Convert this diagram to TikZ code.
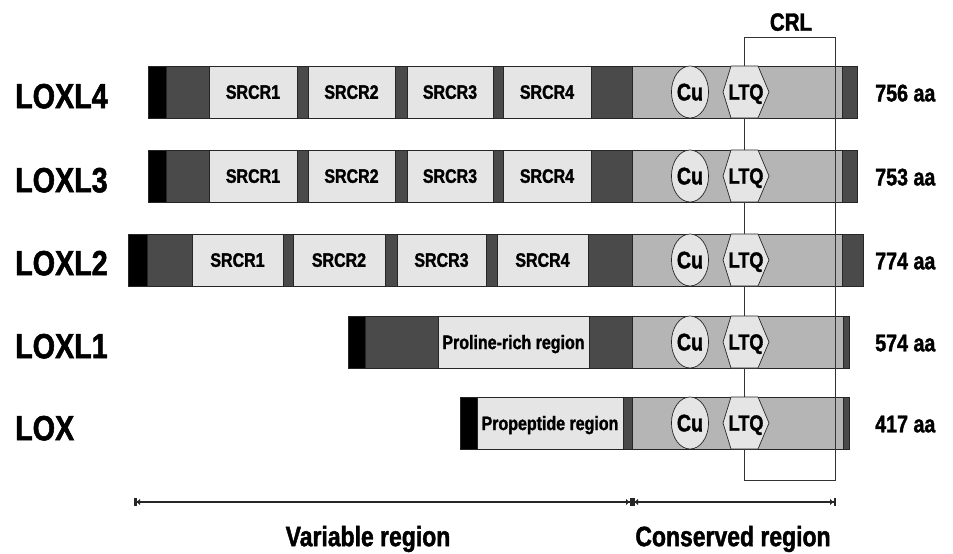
\documentclass[tikz,border=0pt]{standalone}
\usepackage{fontspec}
\newfontfamily\cf{Liberation Sans}[FakeStretch=0.82, BoldFeatures={FakeBold=1.5}]
\usetikzlibrary{arrows.meta,shapes.geometric}
\definecolor{dk}{gray}{0.29}
\definecolor{lt}{gray}{0.90}
\definecolor{md}{gray}{0.71}
\tikzset{
  seg/.style={draw=black!85, line width=0.7pt},
  inlab/.style={font=\cf\bfseries\fontsize{19.5}{22}\selectfont, inner sep=0pt, text depth=0pt},
  cuov/.style={draw=black!85, line width=0.7pt, fill=lt},
  gname/.style={font=\cf\bfseries\fontsize{35}{40}\selectfont, anchor=west, inner sep=0pt, text depth=0pt},
  aalab/.style={font=\cf\bfseries\fontsize{24}{28}\selectfont, anchor=west, inner sep=0pt, text depth=0pt},
  biglab/.style={font=\cf\bfseries\fontsize{28}{32}\selectfont, inner sep=0pt, text depth=0pt},
  brk/.style={draw=black!80, line width=0.8pt},
  dimline/.style={line width=1.4pt, draw=black!85},
  tipL/.style={arrows={Bar[width=8pt,line width=2.5pt]Latex[length=3.5pt,width=7pt]-Latex[length=3.5pt,width=7pt]Bar[width=8pt,line width=2.5pt]}},
}
\newcommand\blk[4]{\draw[seg,fill=#4] (#1,{#3-26}) rectangle (#2,{#3+26});}
\newcommand\lbox[4]{\draw[seg,fill=lt] (#1,{#3-26}) rectangle (#2,{#3+26});
  \node[inlab] at ({(#1+#2)/2},#3) {#4};}
\newcommand\culq[2]{%
  \node[cuov, ellipse, minimum width=29pt, minimum height=52pt, inner sep=0pt, text depth=0pt,
    font=\cf\bfseries\fontsize{24}{26}\selectfont] (cu#2) at (690,#1) {Cu};
  \draw[cuov] (723,#1) -- (731,{#1-26}) -- (758,{#1-26}) -- (769,#1)
    -- (758,{#1+26}) -- (731,{#1+26}) -- cycle;
  \node[font=\cf\bfseries\fontsize{22}{24}\selectfont, inner sep=0pt, text depth=0pt] (ltq#2) at (746,#1) {LTQ};}
\begin{document}
\begin{tikzpicture}[x=1pt,y=-1pt]
\useasboundingbox (0,0) rectangle (953,554);
% LOXL4
\blk{148}{166}{92}{black}\blk{166}{209}{92}{dk}
\lbox{209}{297}{92}{SRCR1}\blk{297}{308}{92}{dk}
\lbox{308}{395}{92}{SRCR2}\blk{395}{407}{92}{dk}
\lbox{407}{493}{92}{SRCR3}\blk{493}{503}{92}{dk}
\lbox{503}{591}{92}{SRCR4}\blk{591}{632}{92}{dk}
\blk{632}{842}{92}{md}\blk{842}{857}{92}{dk}
% LOXL3
\blk{148}{166}{176}{black}\blk{166}{209}{176}{dk}
\lbox{209}{297}{176}{SRCR1}\blk{297}{308}{176}{dk}
\lbox{308}{395}{176}{SRCR2}\blk{395}{407}{176}{dk}
\lbox{407}{493}{176}{SRCR3}\blk{493}{503}{176}{dk}
\lbox{503}{591}{176}{SRCR4}\blk{591}{632}{176}{dk}
\blk{632}{842}{176}{md}\blk{842}{857}{176}{dk}
% LOXL2
\blk{128}{147}{260}{black}\blk{147}{192}{260}{dk}
\lbox{192}{283}{260}{SRCR1}\blk{283}{293}{260}{dk}
\lbox{293}{385}{260}{SRCR2}\blk{385}{397}{260}{dk}
\lbox{397}{486}{260}{SRCR3}\blk{486}{497}{260}{dk}
\lbox{497}{588}{260}{SRCR4}\blk{588}{632}{260}{dk}
\blk{632}{842}{260}{md}\blk{842}{863}{260}{dk}
% LOXL1
\blk{348}{365}{342}{black}\blk{365}{438}{342}{dk}
\lbox{438}{589}{342}{Proline-rich region}\blk{589}{632}{342}{dk}
\blk{632}{843}{342}{md}\blk{843}{849}{342}{dk}
% LOX
\blk{460}{477}{423}{black}
\lbox{477}{623}{423}{Propeptide region}\blk{623}{632}{423}{dk}
\blk{632}{843}{423}{md}\blk{843}{849}{423}{dk}
% CRL bracket
\coordinate (c1) at (744,37); \coordinate (c2) at (835,37);
\coordinate (c3) at (835,480); \coordinate (c4) at (744,480);
\draw[brk] (c1) -- (c2) -- (c3) -- (c4) -- cycle;
\node[biglab, font=\cf\bfseries\fontsize{25}{28}\selectfont] (crl) at (791,22) {CRL};
% Cu / LTQ
\culq{92}{a}\culq{176}{b}\culq{260}{c}\culq{342}{d}\culq{423}{e}
% names
\node[gname] (n4) at (15,96) {LOXL4};
\node[gname] (n3) at (15,180) {LOXL3};
\node[gname] (n2) at (15,263) {LOXL2};
\node[gname] (n1) at (15,346) {LOXL1};
\node[gname] (n0) at (15,428) {LOX};
\node[aalab] (a4) at (875,93) {756 aa};
\node[aalab] (a3) at (875,177) {753 aa};
\node[aalab] (a2) at (875,261) {774 aa};
\node[aalab] (a1) at (875,343) {574 aa};
\node[aalab] (a0) at (875,424) {417 aa};
% dimension lines
\coordinate (d0) at (134,502); \coordinate (d1) at (632,502); \coordinate (d2) at (836,502);
\draw[dimline, tipL] (d0) -- (d1);
\draw[dimline, tipL] (d1) -- (d2);
\node[biglab] (vr) at (368,536) {Variable region};
\node[biglab] (cr) at (733,536) {Conserved region};
\end{tikzpicture}
\end{document}
